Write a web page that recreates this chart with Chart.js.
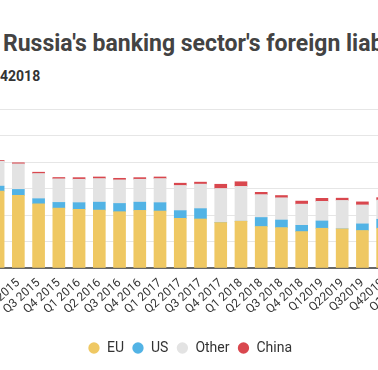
<!DOCTYPE html>
<html>
<head>
<meta charset="utf-8">
<script src="https://cdn.jsdelivr.net/npm/chart.js@4/dist/chart.umd.min.js"></script>
<style>
    html, body { margin: 0; padding: 0; background: #fff; }
    body { width: 378px; height: 370px; position: relative; overflow: hidden; font-family: Roboto, "Noto Sans", sans-serif; }
    #title { position: absolute; left: 3px; top: 33px; font-size: 23px; line-height: 22px; font-weight: 700; color: #434343; white-space: nowrap; }
    #subtitle { position: absolute; left: 0px; top: 69px; font-size: 14px; line-height: 14px; font-weight: 700; color: #333; white-space: nowrap; }
    #wrap { position: absolute; left: -33px; top: 100px; width: 446px; height: 270px; }
</style>
</head>
<body>
<div id="title">Russia's banking sector's foreign liabilities</div>
<div id="subtitle">42018</div>
<div id="wrap"><canvas id="chart"></canvas></div>
<script>
const quarters = ["Q1 2015", "Q2 2015", "Q3 2015", "Q4 2015", "Q1 2016", "Q2 2016", "Q3 2016", "Q4 2016",
    "Q1 2017", "Q2 2017", "Q3 2017", "Q4 2017", "Q1 2018", "Q2 2018", "Q3 2018", "Q4 2018",
    "Q12019", "Q22019", "Q32019", "Q42019", "Q12020"];

const euValues = [58.0, 54.8, 48.5, 45.2, 44.3, 43.7, 42.5, 43.5, 43.0, 37.5, 37.0, 34.3, 35.3, 31.3, 30.5, 27.5, 30.0, 29.5, 28.3, 30.0, null];
const usValues = [3.8, 4.5, 3.8, 4.3, 5.0, 6.0, 6.2, 6.2, 6.3, 5.8, 7.8, 0, 0, 6.8, 5.7, 4.7, 5.5, 0, 5.0, 6.8, null];
const otherValues = [18.8, 19.3, 19.0, 17.8, 17.7, 17.8, 17.8, 17.3, 18.2, 19.0, 18.5, 25.7, 26.3, 17.3, 16.8, 16.0, 14.8, 21.5, 14.3, 14.5, null];
const chinaValues = [0.6, 0.8, 1.0, 1.0, 1.2, 1.2, 1.2, 1.2, 1.2, 1.7, 1.5, 3.2, 3.5, 1.7, 1.7, 2.3, 2.3, 1.7, 2.3, 1.8, null];

const yTicks = [0, 20, 40, 60, 80, 100, 120];

function makeSeries(label, data, color) {
    return { label: label, data: data, backgroundColor: color, borderWidth: 0, barThickness: 12 };
}

const ctx = document.getElementById("chart").getContext("2d");
new Chart(ctx, {
    type: "bar",
    data: {
        labels: quarters,
        datasets: [
            makeSeries("EU", euValues, "#efc863"),
            makeSeries("US", usValues, "#52b3e5"),
            makeSeries("Other", otherValues, "#e3e3e3"),
            makeSeries("China", chinaValues, "#d9474e")
        ]
    },
    options: {
        responsive: true,
        maintainAspectRatio: false,
        animation: false,
        layout: { padding: { top: 9, bottom: 5, left: 0, right: 0 } },
        scales: {
            x: {
                stacked: true,
                grid: { display: false, drawTicks: false },
                border: { display: true, color: "#666", width: 2 },
                ticks: {
                    color: "#333",
                    font: { family: "Roboto", size: 12 },
                    minRotation: 42,
                    maxRotation: 42,
                    padding: 8,
                    autoSkip: false
                },
                afterFit: scale => {
                    // keep the rotated labels from pushing the plot sideways
                    scale.height = 65;
                    scale.paddingLeft = 0;
                    scale.paddingRight = 0;
                }
            },
            y: {
                stacked: true,
                min: yTicks[0],
                max: yTicks[yTicks.length - 1],
                afterBuildTicks: scale => { scale.ticks = yTicks.map(v => ({ value: v })); },
                ticks: { display: false },
                grid: { color: "#e6e6e6", drawTicks: false },
                border: { display: false },
                afterFit: scale => { scale.width = 21; }
            }
        },
        plugins: {
            tooltip: { enabled: false },
            legend: {
                position: "bottom",
                labels: {
                    usePointStyle: true,
                    pointStyle: "circle",
                    boxWidth: 12,
                    boxHeight: 8,
                    padding: 8,
                    color: "#333",
                    font: { family: "Roboto", size: 14 }
                }
            }
        }
    }
});
</script>
</body>
</html>
